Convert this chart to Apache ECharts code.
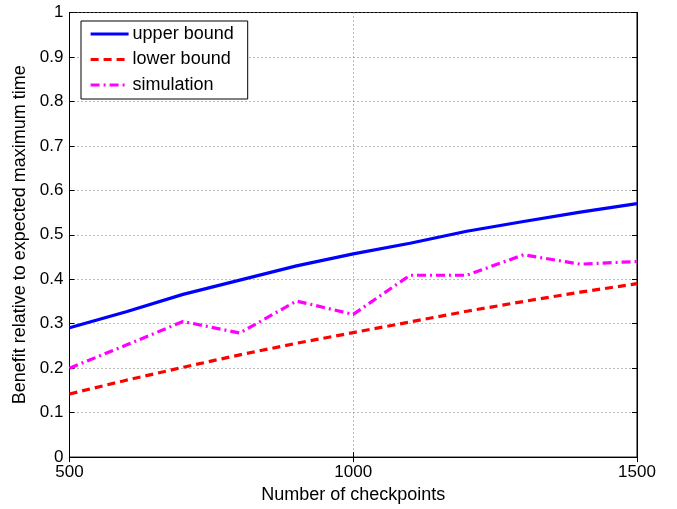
<!DOCTYPE html>
<html>
<head>
<meta charset="utf-8">
<script src="https://cdn.jsdelivr.net/npm/echarts@6/dist/echarts.min.js"></script>
<style>
html,body{margin:0;padding:0;background:#fff;}
#chart{width:677px;height:509px;}
</style>
</head>
<body>
<div id="chart"></div>
<script>
// Number of checkpoints
const checkpoints = [500, 600, 700, 800, 900, 1000, 1100, 1200, 1300, 1400, 1500];
// Benefit relative to expected maximum time
const upperBound = [0.291, 0.327, 0.366, 0.398, 0.430, 0.457, 0.481, 0.508, 0.530, 0.551, 0.570];
const lowerBound = [0.142, 0.173, 0.202, 0.230, 0.256, 0.280, 0.304, 0.328, 0.350, 0.371, 0.390];
const simulation = [0.200, 0.252, 0.305, 0.279, 0.351, 0.321, 0.409, 0.409, 0.455, 0.434, 0.440];
const seriesNames = ['upper bound', 'lower bound', 'simulation'];

const FONT = 'Liberation Sans, Arial, Helvetica, sans-serif';
const pairs = ys => checkpoints.map((x, i) => [x, ys[i]]);

const chart = echarts.init(document.getElementById('chart'), null, {renderer: 'canvas'});

const grid = {left: 69.5, right: 40, top: 12.5, bottom: 49.5, show: true,
  borderColor: '#000', borderWidth: 1, backgroundColor: '#fff'};

const tickStyle = {show: true, inside: true, length: 5, lineStyle: {color: '#000', width: 1}};
const dotted = {show: true, lineStyle: {color: '#777', width: 1, type: [1, 3]}};

chart.setOption({
  animation: false,
  backgroundColor: '#fff',
  textStyle: {fontFamily: FONT},
  grid: grid,
  legend: {
    orient: 'vertical', left: 81, top: 21,
    data: seriesNames,
    itemWidth: 38, itemHeight: 14, itemGap: 7.5,
    padding: [4, 14, 5, 8],
    borderColor: '#000', borderWidth: 1, backgroundColor: '#fff',
    itemStyle: {opacity: 0},
    lineStyle: {width: 3.2},
    textStyle: {fontFamily: FONT, fontSize: 18, color: '#000', padding: [0, 0, 0, -1]}
  },
  xAxis: [{
    type: 'value', min: 500, max: 1500, interval: 500,
    name: 'Number of checkpoints', nameLocation: 'middle', nameGap: 23,
    nameTextStyle: {fontFamily: FONT, fontSize: 18, color: '#000'},
    axisLine: {show: true, onZero: false, lineStyle: {color: '#000'}},
    axisTick: tickStyle,
    axisLabel: {fontFamily: FONT, fontSize: 17, color: '#000', margin: 7,
      formatter: v => String(v)},
    splitLine: dotted
  }, {
    type: 'value', position: 'top', min: 500, max: 1500, interval: 500,
    axisLine: {show: true, lineStyle: {color: '#000'}},
    axisTick: tickStyle, axisLabel: {show: false}, splitLine: {show: false}
  }],
  yAxis: [{
    type: 'value', min: 0, max: 1, interval: 0.1,
    name: 'Benefit relative to expected maximum time', nameLocation: 'middle', nameGap: 37.5,
    nameTextStyle: {fontFamily: FONT, fontSize: 18, color: '#000'},
    axisLine: {show: true, onZero: false, lineStyle: {color: '#000'}},
    axisTick: tickStyle,
    axisLabel: {fontFamily: FONT, fontSize: 17, color: '#000', margin: 6,
      formatter: v => String(Math.round(v * 10) / 10)},
    splitLine: dotted
  }, {
    type: 'value', position: 'right', min: 0, max: 1, interval: 0.1,
    axisLine: {show: true, lineStyle: {color: '#000'}},
    axisTick: tickStyle, axisLabel: {show: false}, splitLine: {show: false}
  }],
  series: [{
    name: seriesNames[0], type: 'line', data: pairs(upperBound),
    symbol: 'none', z: 5,
    lineStyle: {color: '#0000ff', width: 3.2, type: 'solid'},
    itemStyle: {color: '#0000ff'}
  }, {
    name: seriesNames[1], type: 'line', data: pairs(lowerBound),
    symbol: 'none', z: 4,
    lineStyle: {color: '#ff0000', width: 3.2, type: [8, 5]},
    itemStyle: {color: '#ff0000'}
  }, {
    name: seriesNames[2], type: 'line', data: pairs(simulation),
    symbol: 'none', z: 4,
    lineStyle: {color: '#ff00ff', width: 3.2, type: [9, 4, 2, 4]},
    itemStyle: {color: '#ff00ff'}
  }]
});
</script>
</body>
</html>
